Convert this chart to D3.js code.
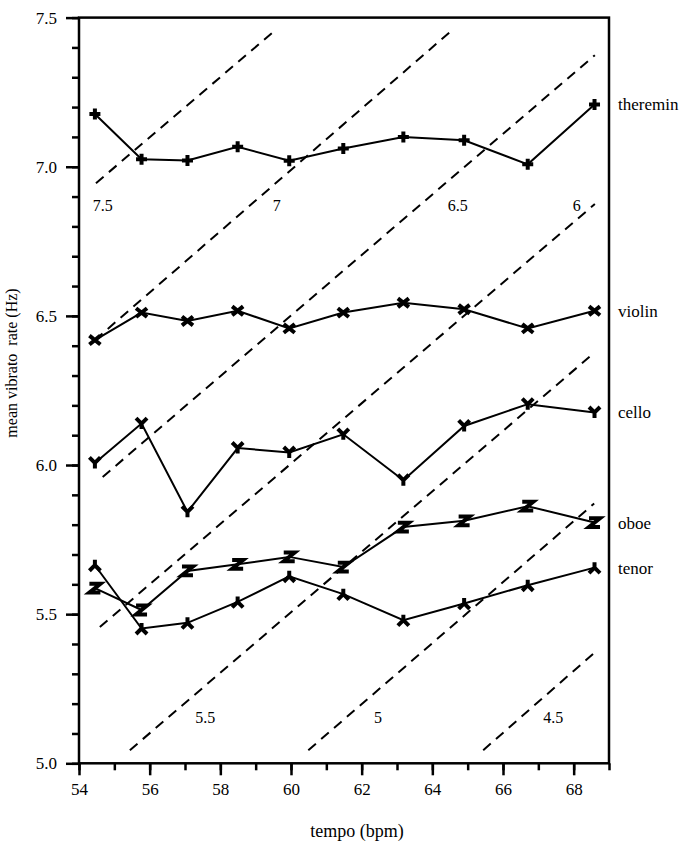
<!DOCTYPE html>
<html>
<head>
<meta charset="utf-8">
<script src="https://cdn.jsdelivr.net/npm/d3@7"></script>
<style>
  body { margin: 0; background: #fff; }
  svg text { font-family: 'Liberation Serif', 'DejaVu Serif', 'Times New Roman', Times, serif !important; fill: #000; }
</style>
</head>
<body>
<svg width="682" height="842"></svg>
<script>
const width = 682;
const height = 842;
const serif = "'Liberation Serif', 'DejaVu Serif', 'Times New Roman', Times, serif";

const tempo = [54.45, 55.77, 57.07, 58.49, 59.95, 61.48, 63.18, 64.9, 66.7, 68.59];

const instruments = ['theremin', 'violin', 'cello', 'oboe', 'tenor'];
const markers = ['plus', 'cross', 'y', 'z', 'lambda'];

const theremin = [7.177, 7.025, 7.021, 7.067, 7.020, 7.061, 7.100, 7.089, 7.008, 7.209];
const violin = [6.419, 6.511, 6.483, 6.517, 6.458, 6.511, 6.544, 6.522, 6.458, 6.517];
const cello = [6.007, 6.139, 5.843, 6.057, 6.042, 6.103, 5.949, 6.131, 6.204, 6.176];
const oboe = [5.587, 5.514, 5.645, 5.667, 5.692, 5.658, 5.792, 5.813, 5.862, 5.807];
const tenor = [5.664, 5.452, 5.471, 5.541, 5.627, 5.567, 5.480, 5.536, 5.597, 5.656];

// dashed reference lines: label, start [tempo, rate], end [tempo, rate]
const isoLabels = ['7.5', '7', '6.5', '6', '5.5', '5', '4.5'];
const isoStart = [[54.48, 6.945], [54.45, 6.419], [54.67, 5.960], [54.59, 5.457], [55.44, 5.044], [60.49, 5.044], [65.44, 5.044]];
const isoEnd = [[59.49, 7.451], [64.56, 7.458], [68.6, 7.374], [68.6, 6.875], [68.58, 6.376], [68.58, 5.871], [68.6, 5.372]];
const isoLabelPos = [[54.67, 6.871], [59.6, 6.871], [64.72, 6.871], [68.09, 6.871], [57.57, 5.155], [62.46, 5.155], [67.42, 5.155]];

const xTicks = [54, 56, 58, 60, 62, 64, 66, 68];
const yTicks = [5.0, 5.5, 6.0, 6.5, 7.0, 7.5];

const series = [theremin, violin, cello, oboe, tenor];

const svg = d3.select('svg');

const x = d3.scaleLinear().domain([54, 69]).range([79, 609]);
const y = d3.scaleLinear().domain([5, 7.5]).range([763.3, 17.6]);

// reference lines
svg.selectAll('.iso')
  .data(isoLabels)
  .enter().append('line')
  .attr('x1', (d, i) => x(isoStart[i][0]))
  .attr('y1', (d, i) => y(isoStart[i][1]))
  .attr('x2', (d, i) => x(isoEnd[i][0]))
  .attr('y2', (d, i) => y(isoEnd[i][1]))
  .attr('stroke', '#000')
  .attr('stroke-width', 2)
  .attr('stroke-dasharray', '10,7');

svg.selectAll('.isoLabel')
  .data(isoLabels)
  .enter().append('text')
  .attr('x', (d, i) => x(isoLabelPos[i][0]))
  .attr('y', (d, i) => y(isoLabelPos[i][1]))
  .attr('dy', '0.35em')
  .attr('text-anchor', 'middle')
  .attr('font-size', 16)
  .style('font-family', serif)
  .text(d => d);

// axes
const minorX = d3.range(54, 70, 1);
const minorY = d3.range(50, 76, 1).map(v => v / 10);

svg.append('g')
  .attr('transform', `translate(0,${y(5)})`)
  .call(d3.axisBottom(x).tickValues(minorX).tickSize(7).tickSizeOuter(0).tickFormat(''))
  .call(g => g.select('.domain').remove());

svg.append('g')
  .attr('transform', `translate(0,${y(5)})`)
  .call(d3.axisBottom(x).tickValues(xTicks).tickSize(12).tickSizeOuter(0).tickPadding(8))
  .call(g => g.select('.domain').remove());

svg.append('g')
  .attr('transform', `translate(${x(54)},0)`)
  .call(d3.axisLeft(y).tickValues(minorY).tickSize(7).tickSizeOuter(0).tickFormat(''))
  .call(g => g.select('.domain').remove());

svg.append('g')
  .attr('transform', `translate(${x(54)},0)`)
  .call(d3.axisLeft(y).tickValues(yTicks).tickSize(13).tickSizeOuter(0).tickPadding(9).tickFormat(d3.format('.1f')))
  .call(g => g.select('.domain').remove());

svg.selectAll('g').attr('font-family', serif);
svg.selectAll('.tick line').attr('stroke', '#000').attr('stroke-width', 2.5);
svg.selectAll('.tick text')
  .style('font-family', serif)
  .attr('font-size', 17)
  .attr('fill', '#000');

svg.append('rect')
  .attr('x', x(54))
  .attr('y', y(7.5))
  .attr('width', x(69) - x(54))
  .attr('height', y(5) - y(7.5))
  .attr('fill', 'none')
  .attr('stroke', '#000')
  .attr('stroke-width', 2.5);

// series lines
const line = d3.line()
  .x((d, i) => x(tempo[i]))
  .y(d => y(d));

svg.selectAll('.series')
  .data(series)
  .enter().append('path')
  .attr('d', line)
  .attr('fill', 'none')
  .attr('stroke', '#000')
  .attr('stroke-width', 2);

function markerPath(type, s) {
  if (type === 'plus') return `M${-s},0H${s}M0,${-s}V${s}`;
  if (type === 'cross') return `M${-s},${-s * 0.8}L${s},${s * 0.8}M${-s},${s * 0.8}L${s},${-s * 0.8}`;
  if (type === 'y') return `M${-s},${-s}L0,0L${s},${-s}M0,0V${s}`;
  if (type === 'z') return `M${-s},${-s * 0.8}H${s}L${-s},${s * 0.8}H${s}`;
  return `M0,${-s}V0L${-s},${s}M0,0L${s},${s}`;
}

series.forEach((vals, k) => {
  svg.append('g')
    .selectAll('path')
    .data(vals)
    .enter().append('path')
    .attr('transform', (d, i) => `translate(${x(tempo[i])},${y(d)})`)
    .attr('d', markerPath(markers[k], 5.5))
    .attr('fill', 'none')
    .attr('stroke', '#000')
    .attr('stroke-width', 4);
});

// series names at the right
svg.selectAll('.name')
  .data(instruments)
  .enter().append('text')
  .attr('x', 618)
  .attr('y', (d, i) => y(series[i][series[i].length - 1]))
  .attr('dy', '0.35em')
  .attr('font-size', 17)
  .style('font-family', serif)
  .text(d => d);

// axis titles
svg.append('text')
  .attr('x', 357)
  .attr('y', 837)
  .attr('text-anchor', 'middle')
  .attr('font-size', 18)
  .style('font-family', serif)
  .text('tempo (bpm)');

svg.append('text')
  .attr('transform', 'translate(17,363) rotate(-90)')
  .attr('text-anchor', 'middle')
  .attr('font-size', 16)
  .style('font-family', serif)
  .style('white-space', 'pre')
  .text('mean vibrato  rate (Hz)');
</script>
</body>
</html>
